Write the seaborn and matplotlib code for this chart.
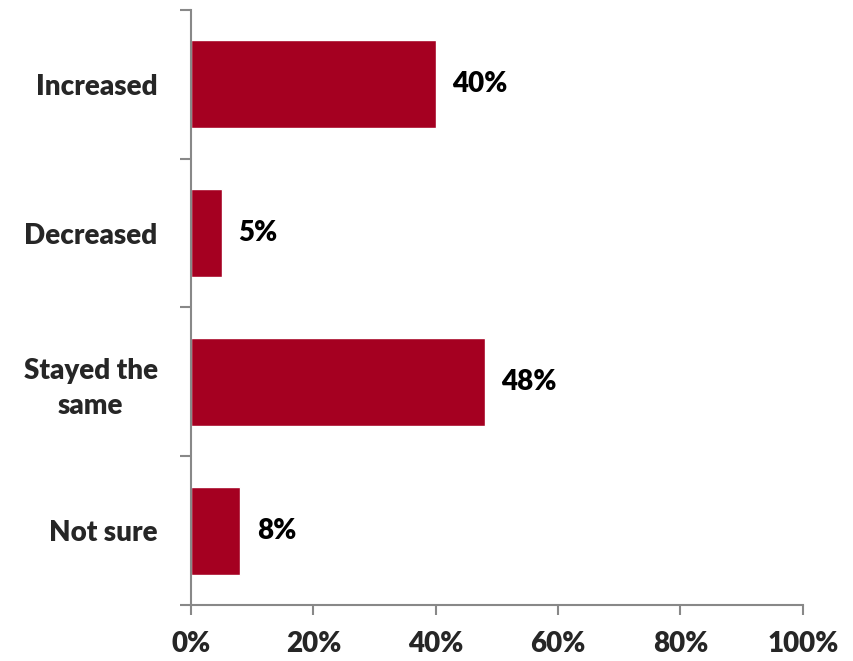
import matplotlib
matplotlib.use("Agg")
import matplotlib.pyplot as plt
import seaborn as sns
import pandas as pd

# Data
categories = ["Increased", "Decreased", "Stayed the\nsame", "Not sure"]
values = [40, 5, 48, 8]
x_ticks = [0, 20, 40, 60, 80, 100]

sns.set_style("white")
plt.rcParams['font.family'] = ['Lato', 'DejaVu Sans']
plt.rcParams['font.weight'] = 'heavy'

bar_color = "#A50021"
axis_color = "#888888"
fsize = 20
weight = "heavy"

df = pd.DataFrame({"category": categories, "value": values})

fig = plt.figure(figsize=(8.54, 6.61), dpi=100)
ax = fig.add_axes([0.2237, 0.0847, 0.940 - 0.2237, 0.985 - 0.0847])

sns.barplot(data=df, x="value", y="category", color=bar_color, width=0.59,
            saturation=1, ax=ax)

ax.set_xlim(0, 100)
ax.set_ylim(len(categories) - 0.5, -0.5)

# Value labels
for i, v in enumerate(values):
    ax.annotate(f"{v}%", xy=(v, i), xytext=(12, 0), textcoords="offset points",
                va="center", ha="left", fontsize=fsize, fontweight=weight,
                color="black")

# X axis
ax.set_xticks(x_ticks)
ax.set_xticklabels([f"{t}%" for t in x_ticks], fontsize=fsize, fontweight=weight)
ax.tick_params(axis="x", which="major", direction="out", length=7, width=1.5,
               color=axis_color, pad=12, bottom=True)

# Y axis: ticks at category boundaries, labels centered on bars
ax.set_yticks([i - 0.5 for i in range(len(categories) + 1)])
ax.set_yticklabels([""] * (len(categories) + 1))
ax.set_yticks(range(len(categories)), minor=True)
ax.set_yticklabels(categories, minor=True, fontsize=fsize, fontweight=weight,
                   multialignment="center", linespacing=1.4)
ax.tick_params(axis="y", which="minor", length=0, pad=24)
ax.tick_params(axis="y", which="major", direction="out", length=8, width=1.5,
               color=axis_color, left=True)

ax.set_xlabel("")
ax.set_ylabel("")

for side in ["top", "right"]:
    ax.spines[side].set_visible(False)
for side in ["left", "bottom"]:
    ax.spines[side].set_color(axis_color)
    ax.spines[side].set_linewidth(1.5)

fig.savefig("out.png", dpi=100)
